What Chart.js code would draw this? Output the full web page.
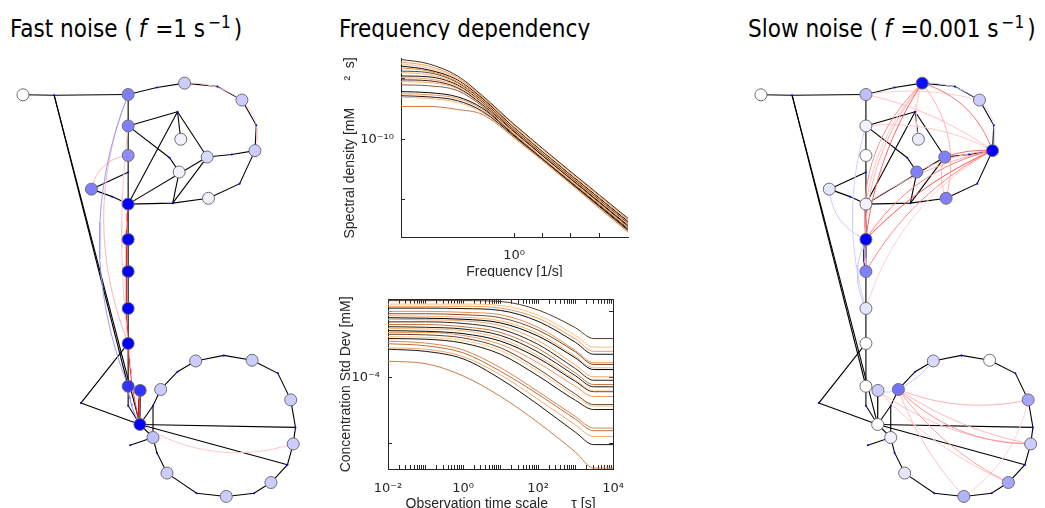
<!DOCTYPE html>
<html>
<head>
<meta charset="utf-8">
<title>Fast and slow noise</title>
<script src="https://cdn.jsdelivr.net/npm/chart.js@4.4.1/dist/chart.umd.min.js"></script>
<style>
  body { margin: 0; width: 1045px; height: 508px; overflow: hidden; position: relative; background: #fff; }
  canvas, .ttl { position: absolute; }
  .ttl { font-family: 'DejaVu Sans Condensed', 'DejaVu Sans', sans-serif; font-stretch: condensed; font-size: 24px; line-height: 28px; white-space: nowrap; color: #000; }
  .ttl sup { font-size: 17px; line-height: 0; margin-left: 3px; margin-right: 3px; }
  .ttl i { margin: 0 2px 0 6px; }
</style>
</head>
<body>
<div class="ttl" style="left:10px; top:15px">Fast noise (<i>f</i> =1 s<sup>−1</sup>)</div>
<div class="ttl" style="left:339px; top:15px; height:25px; overflow:hidden">Frequency dependency</div>
<div class="ttl" style="left:748px; top:15px">Slow noise (<i>f</i> =0.001 s<sup>−1</sup>)</div>
<canvas id="fast" width="320" height="508" style="left:0; top:0"></canvas>
<canvas id="slow" width="307" height="508" style="left:738px; top:0"></canvas>
<canvas id="spec" width="310" height="237" style="left:330px; top:40px"></canvas>
<canvas id="std" width="310" height="228" style="left:330px; top:280px"></canvas>
<script>
// ---- network layout, same for both graphs (1 unit = 10 px, y grows downward) ----
const nodeX = [1.67, 12.67, 12.67, 12.67, 12.67, 12.67, 12.67, 12.67, 12.67, 12.67, 8.83, 18.57, 24.57, 25.93, 20.93, 18.17, 18.0, 21.07,
               13.93, 13.9, 16.07, 19.73, 25.63, 29.67, 29.93, 27.6, 22.93, 16.73, 15.27];
const nodeY = [9.03, 9.0, 12.23, 15.27, 20.27, 23.9, 27.2, 31.0, 34.6, 39.0, 18.73, 7.83, 9.57, 14.77, 15.43, 13.6, 16.97, 19.67,
               39.43, 42.93, 39.33, 36.4, 36.33, 40.4, 44.93, 48.9, 50.33, 47.93, 44.27];
// edge bend points (small dots), numbered after the nodes: 29, 30, ...
const bendX = [4.93, 17.83, 17.33, 7.73, 30.17, 29.33, 12.87, 15.27, 12.67, 15.67, 22.0, 26.07, 24.33, 23.5, 17.0, 12.67, 11.0,
               17.83, 22.67, 28.33, 15.67, 19.83, 25.83];
const bendY = [9.07, 10.77, 20.17, 40.73, 43.23, 47.07, 45.07, 41.0, 41.0, 8.27, 8.17, 12.17, 18.17, 15.17, 15.5, 17.0, 19.5,
               37.5, 35.83, 37.67, 45.83, 50.0, 50.0];
const edges = [
  [0, 29, 1], [29, 9], [29, 19],
  [1, 2, 3, 44, 4, 5, 6, 7, 8, 9, 37, 19],
  [1, 38, 11], [11, 39, 12], [12, 40, 13], [13, 41, 17], [17, 31, 4],
  [14, 42, 13], [30, 2], [30, 4], [30, 15], [30, 14], [4, 14],
  [2, 43, 16], [16, 31], [14, 31], [10, 44], [10, 45, 4],
  [8, 32, 19], [18, 19], [19, 36, 20], [36, 28],
  [20, 46, 21], [21, 47, 22], [22, 48, 23], [23, 33, 24], [24, 34, 25], [25, 51, 26], [26, 50, 27], [27, 49, 28], [28, 19],
  [19, 33], [19, 34], [35, 28]
];
// node response, 0 = none (white) .. 1 = strongest (blue)
const fastLevel = [0, 0.5, 0.5, 0.45, 1, 1, 1, 1, 1, 0.8, 0.5, 0.2, 0.2, 0.2, 0.15, 0.05, 0.05, 0.05,
                   0.8, 1, 0.2, 0.2, 0.2, 0.2, 0.2, 0.2, 0.2, 0.2, 0.25];
const slowLevel = [0, 0.25, 0.05, 0, 0.05, 1, 0.5, 0.1, 0, 0, 0.1, 0.95, 0.2, 1, 0.5, 0.08, 0.5, 0.5,
                   0.2, 0, 0.55, 0.15, 0, 0.35, 0.2, 0.35, 0.3, 0.1, 0.05];
// correlations: [from, to, colour, bend]
const fastArcs = [
  [1, 9, '#9a9aff', 0.2], [1, 8, '#ffb4b4', 0.2], [2, 8, '#ffc8c8', 0.06], [3, 10, '#ffb4b4', 0.35],
  [4, 8, '#ff2020', 0.03], [8, 19, '#ff3030', 0.05], [18, 19, '#ff0000', 0.1], [9, 19, '#8080ff', 0.12],
  [19, 24, '#ffc8c8', 0.22], [11, 12, '#ffc8c8', -0.17], [12, 13, '#ffd0d0', -0.3]
];
const slowArcs = [
  [11, 13, '#ff7070', -0.25], [11, 12, '#c8c8ff', -0.17], [12, 13, '#d8d8ff', -0.3],
  [11, 5, '#ff6060', 0.12], [11, 5, '#ff9090', 0.25], [11, 6, '#ffb0b0', 0.2], [11, 4, '#ffc0c0', 0.15],
  [11, 17, '#ffb0b0', -0.25], [11, 15, '#ffc8c8', 0.15], [1, 13, '#ffc0c0', -0.1], [1, 12, '#ffd0d0', -0.1],
  [13, 5, '#ff5050', 0.1], [13, 5, '#ff8080', 0.2], [13, 6, '#ff8888', 0.15], [13, 4, '#ffb0b0', 0.1],
  [13, 7, '#ffd0d0', 0.2], [13, 14, '#ff6060', 0.1], [13, 16, '#ffb0b0', 0.1], [13, 2, '#ffc8c8', 0.15],
  [5, 6, '#2020ff', 0.15], [5, 7, '#c8c8ff', 0.25], [10, 5, '#c8c8ff', 0.3], [2, 7, '#d0d0ff', 0.15],
  [14, 17, '#ffc0c0', 0.2], [20, 23, '#ffb0b0', 0.15], [20, 24, '#ff9090', 0.2], [20, 24, '#ffb8b8', 0.1],
  [20, 25, '#ffa0a0', 0.12], [20, 26, '#ffc0c0', 0.1], [20, 21, '#c0c0ff', 0.1], [18, 20, '#c8c8ff', 0.2],
  [18, 24, '#ffc0c0', 0.15], [18, 25, '#ffc8c8', 0.1], [23, 26, '#ffd0d0', -0.2]
];

// ---- spectral density, values in units of 1e-10 mM^2 s ----
const SPEC_UNIT = 1e-10;
const freq = [0.0635, 0.124, 0.252, 0.464, 1, 16.1];
const specDensity = [
  [2.50, 2.38, 2.07, 1.65, 1.19, 0.405], [2.43, 2.32, 2.03, 1.63, 1.18, 0.400], [2.38, 2.27, 2.00, 1.62, 1.16, 0.396],
  [2.32, 2.22, 1.98, 1.60, 1.15, 0.391], [2.27, 2.19, 1.94, 1.58, 1.14, 0.387], [2.19, 2.15, 1.92, 1.56, 1.12, 0.383],
  [2.15, 2.10, 1.89, 1.54, 1.11, 0.378], [2.07, 2.05, 1.87, 1.53, 1.10, 0.374], [2.03, 2.00, 1.85, 1.51, 1.10, 0.374],
  [1.98, 1.96, 1.81, 1.49, 1.09, 0.370], [1.94, 1.92, 1.79, 1.48, 1.07, 0.366], [1.87, 1.85, 1.75, 1.46, 1.06, 0.362],
  [1.73, 1.71, 1.63, 1.43, 1.05, 0.357], [1.69, 1.67, 1.60, 1.41, 1.05, 0.357], [1.65, 1.63, 1.56, 1.38, 1.04, 0.353],
  [1.62, 1.60, 1.53, 1.36, 1.03, 0.349], [1.46, 1.46, 1.41, 1.33, 1.02, 0.346]
];
const specColours = ['#4b2f1e', '#f09c5e', '#ffc07e', '#0a0604', '#e68e52', '#6b4327', '#fbb272', '#1e130b', '#f3a466',
                     '#3a2416', '#f7aa6a', '#8c5733', '#120b07', '#ee9a5a', '#2b1b10', '#fdb676', '#c9773f'];
const freqTicks = [1, 2, 4, 8];
const specTicks = [5e-11, 1e-10, 2e-10];

// ---- std dev vs observation time, values in units of 1e-4 mM ----
const STD_UNIT = 1e-4;
const tau = [0.01, 0.1, 1, 10, 100, 1000, 3000, 10000];
const stdDev = [
  [2.25, 2.25, 2.25, 2.23, 2.04, 1.69, 1.51, 1.51], [2.17, 2.17, 2.17, 2.14, 1.93, 1.56, 1.38, 1.38],
  [2.12, 2.12, 2.12, 2.08, 1.87, 1.50, 1.32, 1.32], [2.08, 2.08, 2.07, 2.03, 1.81, 1.45, 1.28, 1.28],
  [2.01, 2.01, 1.99, 1.94, 1.70, 1.33, 1.17, 1.17], [1.96, 1.96, 1.94, 1.88, 1.65, 1.31, 1.15, 1.15],
  [1.92, 1.91, 1.89, 1.82, 1.59, 1.25, 1.11, 1.11], [1.88, 1.87, 1.85, 1.78, 1.55, 1.23, 1.09, 1.09],
  [1.85, 1.84, 1.82, 1.73, 1.48, 1.14, 1.01, 1.01], [1.80, 1.80, 1.77, 1.67, 1.42, 1.10, 0.974, 0.974],
  [1.75, 1.75, 1.71, 1.61, 1.36, 1.05, 0.931, 0.931], [1.71, 1.70, 1.67, 1.56, 1.31, 1.02, 0.909, 0.909],
  [1.68, 1.67, 1.64, 1.51, 1.26, 0.976, 0.870, 0.870], [1.64, 1.63, 1.59, 1.47, 1.23, 0.961, 0.864, 0.864],
  [1.61, 1.61, 1.56, 1.42, 1.17, 0.912, 0.821, 0.821], [1.58, 1.57, 1.52, 1.37, 1.10, 0.841, 0.754, 0.754],
  [1.54, 1.53, 1.48, 1.33, 1.07, 0.820, 0.741, 0.741], [1.51, 1.50, 1.44, 1.28, 1.02, 0.788, 0.716, 0.716],
  [1.47, 1.44, 1.34, 1.11, 0.865, 0.664, 0.589, 0.589], [1.43, 1.40, 1.30, 1.07, 0.841, 0.646, 0.573, 0.573],
  [1.37, 1.35, 1.25, 1.03, 0.797, 0.608, 0.539, 0.539], [1.35, 1.32, 1.22, 0.987, 0.754, 0.563, 0.495, 0.495],
  [1.19, 1.16, 1.02, 0.821, 0.624, 0.457, 0.387, 0.387]
];
const stdColours = ['#5a3824', '#ffc07e', '#f09c5e', '#1a100a', '#e68e52', '#7b4c2d', '#fbb272', '#000000', '#f3a466',
                    '#3a2416', '#c9773f', '#2b1b10', '#fdb676', '#0f0906', '#ee9a5a', '#6b4327', '#ffc888', '#201409',
                    '#d9844a', '#ba6f3c', '#f7aa6a', '#1e130b', '#cd7a45'];
const stdTicks = [5e-5, 1e-4, 2e-4];
const labelAt = [1e-10, 1e-4, 1e-2, 1, 1e2, 1e4];
const labelText = ['10⁻¹⁰', '10⁻⁴', '10⁻²', '10⁰', '10²', '10⁴'];

Chart.defaults.font.family = "'Liberation Sans', Arial, sans-serif";
const ink = '#262626';

// ---------- network graphs ----------
const ptX = nodeX.concat(bendX), ptY = nodeY.concat(bendY);
const pt = i => ({x: ptX[i], y: ptY[i]});

// quadratic curve between two nodes, control point pushed sideways
function arcPath(a, b, bend) {
  const x0 = nodeX[a], y0 = nodeY[a], x1 = nodeX[b], y1 = nodeY[b];
  const cx = (x0 + x1) / 2 - bend * (y1 - y0);
  const cy = (y0 + y1) / 2 + bend * (x1 - x0);
  const out = [];
  for (let k = 0; k <= 16; k++) {
    const t = k / 16, s = 1 - t;
    out.push({x: s * s * x0 + 2 * s * t * cx + t * t * x1, y: s * s * y0 + 2 * s * t * cy + t * t * y1});
  }
  return out;
}

function nodeColour(v) {
  const c = Math.round(255 * (1 - v));
  return `rgb(${c},${c},255)`;
}

function networkChart(id, level, arcs, xMax) {
  const datasets = [];
  edges.forEach(e => datasets.push({data: e.map(pt), showLine: true, borderColor: '#000', borderWidth: 1.1,
                                    pointRadius: 0, order: 3, clip: false}));
  arcs.forEach(([a, b, col, bend]) => datasets.push({data: arcPath(a, b, bend), showLine: true, borderColor: col,
                                                     borderWidth: 1, pointRadius: 0, order: 2, clip: false}));
  datasets.push({data: bendX.map((x, i) => ({x, y: bendY[i]})), pointRadius: 1, pointBackgroundColor: '#0000ff',
                 pointBorderWidth: 0, order: 1, clip: false});
  datasets.push({data: nodeX.map((x, i) => ({x, y: nodeY[i]})), pointRadius: 6, pointBackgroundColor: level.map(nodeColour),
                 pointBorderColor: '#6e6e6e', pointBorderWidth: 1, order: 0, clip: false});
  new Chart(document.getElementById(id), {
    type: 'scatter',
    data: {datasets},
    options: {
      responsive: false, animation: false, events: [],
      layout: {padding: 0},
      plugins: {legend: {display: false}, tooltip: {enabled: false}},
      elements: {line: {tension: 0}},
      scales: {
        x: {type: 'linear', display: false, min: 0, max: xMax},
        y: {type: 'linear', display: false, min: 0, max: 50.8, reverse: true}
      }
    }
  });
}

networkChart('fast', fastLevel, fastArcs, 32);
networkChart('slow', slowLevel, slowArcs, 30.7);

// ---------- log-log plots ----------
const tickLabel = v => {
  const k = labelAt.findIndex(t => Math.abs(v / t - 1) < 1e-6);
  return k < 0 ? '' : labelText[k];
};
const inwardGrid = {display: true, drawOnChartArea: false, drawTicks: true, tickLength: -4, tickColor: ink, tickWidth: 1};
const axisBorder = {display: true, color: ink, width: 1};
const tickFont = {family: "'DejaVu Sans', sans-serif", size: 13};
const titleFont = {size: 14, lineHeight: 1};

function logAxis(position, min, max, tickValues, pad, extra) {
  return Object.assign({
    type: 'logarithmic', position, min, max, bounds: 'data',
    afterBuildTicks: ax => { ax.ticks = tickValues.map(v => ({value: v})); },
    grid: inwardGrid, border: axisBorder,
    ticks: {autoSkip: false, maxRotation: 0, color: ink, font: tickFont, padding: pad, display: pad !== null,
            callback: tickLabel}
  }, extra);
}

function lineSets(rows, xs, unit, colours) {
  return rows.map((row, i) => ({
    data: row.map((v, k) => ({x: xs[k], y: v * unit})),
    borderColor: colours[i % colours.length], borderWidth: 1, pointRadius: 0,
    cubicInterpolationMode: 'monotone'
  }));
}

const tauTicks = [];
for (let e = -2; e <= 4; e++) {
  for (let m = 1; m <= 9; m++) {
    const v = m * Math.pow(10, e);
    if (v <= 10000 * 1.0001) tauTicks.push(v);
  }
}

new Chart(document.getElementById('spec'), {
  type: 'line',
  data: {datasets: lineSets(specDensity, freq, SPEC_UNIT, specColours)},
  options: {
    responsive: false, animation: false, events: [],
    layout: {padding: {top: 17, right: 12, left: 0, bottom: 0}},
    plugins: {legend: {display: false}, tooltip: {enabled: false}},
    scales: {
      x: logAxis('bottom', 0.0635, 16.1, freqTicks, 15, {
        afterFit: ax => { ax.height = 40; },
        title: {display: true, text: 'Frequency [1/s]', color: ink, font: titleFont, padding: {top: 0, bottom: -2}}
      }),
      y: logAxis('left', 3.27e-11, 2.52e-10, specTicks, 11, {
        afterFit: ax => { ax.width = 71; },
        title: {display: true, text: 'Spectral density [mM       ²  s]', color: ink, font: titleFont, padding: {top: 13, bottom: 0}}
      })
    }
  }
});

new Chart(document.getElementById('std'), {
  type: 'line',
  data: {datasets: lineSets(stdDev, tau, STD_UNIT, stdColours)},
  options: {
    responsive: false, animation: false, events: [],
    layout: {padding: 0},
    plugins: {legend: {display: false}, tooltip: {enabled: false}},
    scales: {
      x: logAxis('bottom', 0.01, 10000, tauTicks, 16, {
        afterFit: ax => { ax.height = 39; },
        title: {display: true, text: 'Observation time scale      τ [s]', color: ink, font: titleFont, padding: {top: 0, bottom: -3}}
      }),
      x2: logAxis('top', 0.01, 10000, tauTicks, null, {
        afterFit: ax => { ax.height = 16; }
      }),
      y: logAxis('left', 3.83e-5, 2.27e-4, stdTicks, 12, {
        afterFit: ax => { ax.width = 58; },
        title: {display: true, text: 'Concentration Std Dev [mM]', color: ink, font: titleFont, padding: {top: 9, bottom: 0}}
      }),
      y2: logAxis('right', 3.83e-5, 2.27e-4, stdTicks, null, {
        afterFit: ax => { ax.width = 23; }
      })
    }
  }
});
</script>
</body>
</html>
